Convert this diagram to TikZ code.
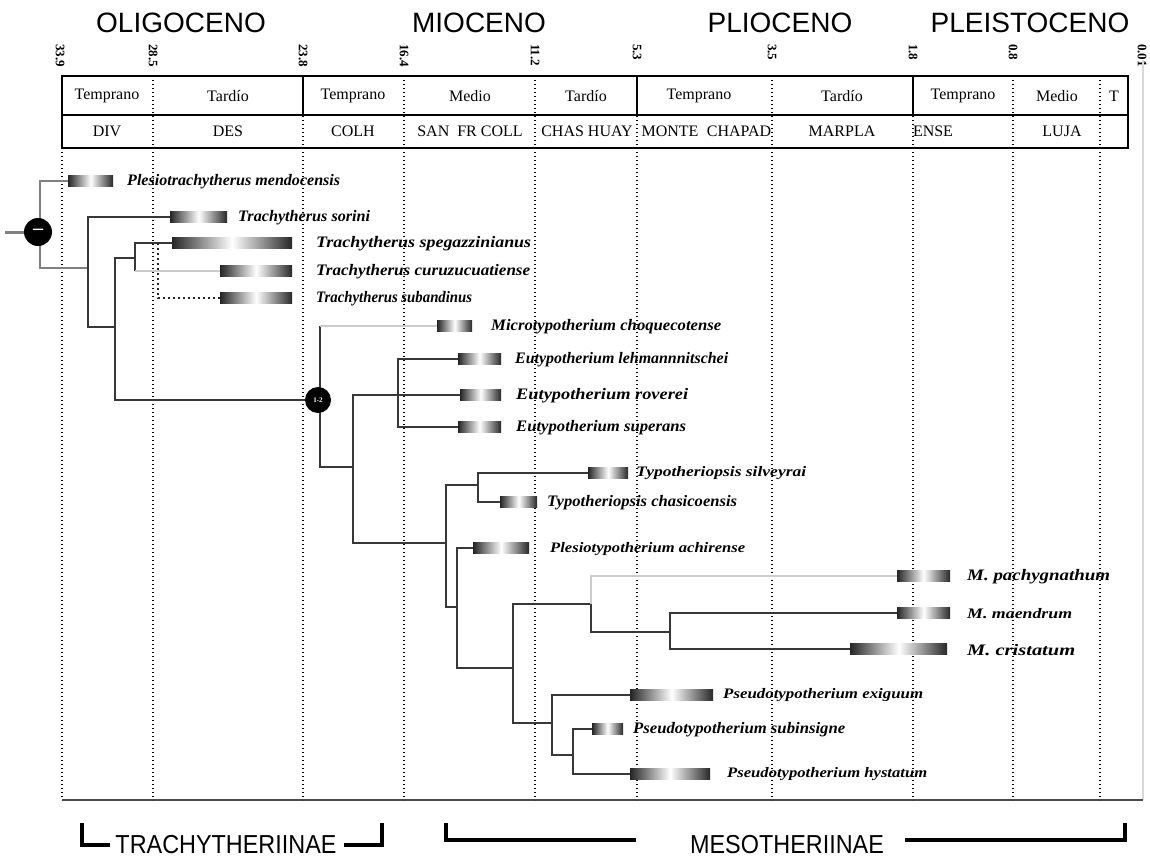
\documentclass[tikz,border=0pt]{standalone}
\usepackage{fontspec}
\usepackage{graphicx}
\setmainfont{Liberation Serif}
\newfontfamily\hsans{Liberation Sans}
\newcommand{\fitw}[2]{\resizebox{#1pt}{\height}{#2}}
\tikzset{
  tree/.style={line width=2.2pt, draw=black!78},
  lite/.style={line width=2pt, draw=black!20},
  midg/.style={line width=2.2pt, draw=black!50},
  tline/.style={line width=1.2pt, dash pattern=on 1.3pt off 2.7pt},
  dotbr/.style={line width=1.6pt, dash pattern=on 2pt off 3pt, draw=black!85},
  bar/.style={minimum height=11pt, inner sep=0pt, anchor=west, draw=none,
     left color=black!85, right color=black!85, middle color=white},
  sp/.style={anchor=west, inner sep=0pt, font=\fontsize{16}{18}\selectfont\bfseries\itshape},
  sps/.style={anchor=west, inner sep=0pt, font=\fontsize{14.5}{16}\selectfont\bfseries\itshape},
  cell/.style={font=\fontsize{16}{18}\selectfont, inner sep=0pt},
  num/.style={rotate=-90, anchor=west, inner sep=0pt, font=\fontsize{13}{15}\selectfont\bfseries},
  epoch/.style={font=\hsans\fontsize{28}{30}\selectfont, anchor=base, inner sep=0pt},
  clade/.style={font=\hsans\fontsize{26}{30}\selectfont, anchor=base, inner sep=0pt},
  brk/.style={line width=3.2pt},
}
\begin{document}
\begin{tikzpicture}[x=1pt,y=-1pt]
\useasboundingbox[fill=white] (0,0) rectangle (1150,859);

% epochs
\node[epoch] (ep1) at (181,33) {OLIGOCENO};
\node[epoch] (ep2) at (479,33) {MIOCENO};
\node[epoch] (ep3) at (780,33) {PLIOCENO};
\node[epoch] (ep4) at (1030,33) {PLEISTOCENO};

% age numbers
\foreach \x/\l in {60/33.9,153/28.5,303/23.8,404/16.4,535/11.2,637/5.3,772/3.5,913/1.8,1013/0.8,1142/0.01}
  \node[num] at (\x,44) {\l};

% right light edge and bottom line
\draw[black!15, line width=1.5pt] (1143,60) -- (1143,800);
\draw[black!70, line width=1.6pt] (62,800) -- (1143,800);

% time lines
\foreach \x in {62,153,303,404,535,637,772,913,1013,1100}
  \draw[tline] (\x,76) -- (\x,800);

% table
\draw[line width=1.5pt] (62,76) rectangle (1128,148);
\draw[line width=1.5pt] (62,115) -- (1128,115);
\foreach \x in {303,637,913} \draw[line width=1.3pt] (\x,76) -- (\x,115);

\node[cell] at (107,96) {Temprano};
\node[cell] at (228,96) {Tardío};
\node[cell] at (353,96) {Temprano};
\node[cell] at (470,96) {Medio};
\node[cell] at (586,96) {Tardío};
\node[cell] at (699,96) {Temprano};
\node[cell] at (842,96) {Tardío};
\node[cell] at (963,96) {Temprano};
\node[cell] at (1057,96) {Medio};
\node[cell] at (1114,96) {T};

\node[cell] at (107,131) {DIV};
\node[cell] at (228,131) {DES};
\node[cell] at (353,131) {COLH};
\node[cell] at (470,131) {SAN\ \ FR COLL};
\node[cell] at (587,131) {CHAS HUAY};
\node[cell] at (670,131) {MONTE};
\node[cell] at (739,131) {CHAPAD};
\node[cell] at (842,131) {MARPLA};
\node[cell] at (933,131) {ENSE};
\node[cell] at (1062,131) {LUJA};

% bars
\node[bar, minimum width=45pt] (b1) at (68,181) {};
\node[bar, minimum width=57pt] (b2) at (170,217) {};
\node[bar, minimum width=120pt] (b3) at (172,243) {};
\node[bar, minimum width=72pt] (b4) at (220,271) {};
\node[bar, minimum width=72pt] (b5) at (220,298) {};
\node[bar, minimum width=35pt] (b6) at (437,326) {};
\node[bar, minimum width=43pt] (b7) at (458,359) {};
\node[bar, minimum width=41pt] (b8) at (460,395) {};
\node[bar, minimum width=43pt] (b9) at (458,427) {};
\node[bar, minimum width=40pt] (b10) at (588,473) {};
\node[bar, minimum width=37pt] (b11) at (500,502) {};
\node[bar, minimum width=56pt] (b12) at (473,548) {};
\node[bar, minimum width=53pt] (b13) at (897,576) {};
\node[bar, minimum width=53pt] (b14) at (897,613) {};
\node[bar, minimum width=97pt] (b15) at (850,649) {};
\node[bar, minimum width=83pt] (b16) at (630,695) {};
\node[bar, minimum width=31pt] (b17) at (592,729) {};
\node[bar, minimum width=80pt] (b18) at (630,774) {};

% species labels
\node[sp] (t1) at (127,182) {\fitw{213}{Plesiotrachytherus mendocensis}};
\node[sp] (t2) at (238,218) {\fitw{132}{Trachytherus sorini}};
\node[sp] (t3) at (316,244) {\fitw{215}{Trachytherus spegazzinianus}};
\node[sp] (t4) at (316,272) {\fitw{214}{Trachytherus curuzucuatiense}};
\node[sp] (t5) at (316,299) {\fitw{156}{Trachytherus subandinus}};
\node[sp] (t6) at (491,327) {\fitw{230}{Microtypotherium choquecotense}};
\node[sp] (t7) at (515,360) {\fitw{213}{Eutypotherium lehmannnitschei}};
\node[sp] (t8) at (516,396) {\fitw{172}{Eutypotherium roverei}};
\node[sp] (t9) at (516,428) {\fitw{170}{Eutypotherium superans}};
\node[sps] (t10) at (636,473) {\fitw{170}{Typotheriopsis silveyrai}};
\node[sp] (t11) at (547,503) {\fitw{190}{Typotheriopsis chasicoensis}};
\node[sps] (t12) at (550,549) {\fitw{195}{Plesiotypotherium achirense}};
\node[sp] (t13) at (967,577) {\fitw{143}{M. pachygnathum}};
\node[sps] (t14) at (967,614) {\fitw{105}{M. maendrum}};
\node[sp] (t15) at (967,650) {\fitw{108}{M. cristatum}};
\node[sps] (t16) at (723,695) {\fitw{200}{Pseudotypotherium exiguum}};
\node[sp] (t17) at (633,730) {\fitw{212}{Pseudotypotherium subinsigne}};
\node[sps] (t18) at (727,774) {\fitw{200}{Pseudotypotherium hystatum}};

% internal nodes
\coordinate (R) at (40,232);
\coordinate (A) at (88,268);
\coordinate (B) at (115,327);
\coordinate (C) at (135,258);
\coordinate (dd) at (158,243);
\coordinate (N2) at (320,400);
\coordinate (E) at (353,467);
\coordinate (D) at (398,395);
\coordinate (F) at (446,543);
\coordinate (G) at (478,485);
\coordinate (H) at (457,607);
\coordinate (I) at (513,668);
\coordinate (L) at (591,604);
\coordinate (M) at (670,632);
\coordinate (J) at (552,723);
\coordinate (K) at (573,755);
\coordinate (r0) at (5,232);

% branches
\draw[midg] (R) |- (b1.west);
\draw[midg] (R) |- (A);
\draw[tree] (A) |- (b2.west);
\draw[tree] (A) |- (B);
\draw[tree] (B) |- (C);
\draw[tree] (B) |- (N2);
\draw[tree] (C) |- (b3.west);
\draw[tree] (C) -- (C |- b4.west);
\draw[lite] (C |- b4.west) -- (b4.west);
\draw[dotbr] (dd) |- (b5.west);
\draw[tree] (N2) -- (N2 |- b6.west);
\draw[lite] (N2 |- b6.west) -- (b6.west);
\draw[tree] (N2) |- (E);
\draw[tree] (E) |- (D);
\draw[tree] (D) |- (b7.west);
\draw[tree] (D) -- (b8.west);
\draw[tree] (D) |- (b9.west);
\draw[tree] (E) |- (F);
\draw[tree] (F) |- (G);
\draw[tree] (G) |- (b10.west);
\draw[tree] (G) |- (b11.west);
\draw[tree] (F) |- (H);
\draw[tree] (H) |- (b12.west);
\draw[tree] (H) |- (I);
\draw[tree] (I) |- (L);
\draw[lite] (L) |- (b13.west);
\draw[tree] (L) |- (M);
\draw[tree] (M) |- (b14.west);
\draw[tree] (M) |- (b15.west);
\draw[tree] (I) |- (J);
\draw[tree] (J) |- (b16.west);
\draw[tree] (J) |- (K);
\draw[tree] (K) |- (b17.west);
\draw[tree] (K) |- (b18.west);

% node circles
\node[circle, fill=black, minimum size=28pt, inner sep=0pt, text=white,
      font=\fontsize{20}{20}\selectfont\bfseries] (rc) at (38,232) {–};
\draw[midg, line width=3pt] (r0) -- (rc.west);
\node[circle, fill=black, minimum size=26pt, inner sep=0pt, text=white,
      font=\fontsize{7}{7}\selectfont\bfseries] (n2c) at (318,400) {1-2};

% clade brackets
\node[clade] (trach) at (226,853) {\scalebox{0.9}[1]{TRACHYTHERIINAE}};
\node[clade] (meso) at (787,853) {\scalebox{0.9}[1]{MESOTHERIINAE}};
\coordinate (tl1) at (82,823);
\coordinate (tl2) at (110,845);
\coordinate (tr1) at (344,845);
\coordinate (tr2) at (382,823);
\coordinate (ml1) at (446,823);
\coordinate (ml2) at (636,840);
\coordinate (mr1) at (905,840);
\coordinate (mr2) at (1125,823);
\draw[brk] (tl1) |- (tl2);
\draw[brk] (tr1) -| (tr2);
\draw[brk] (ml1) |- (ml2);
\draw[brk] (mr1) -| (mr2);
\end{tikzpicture}
\end{document}
